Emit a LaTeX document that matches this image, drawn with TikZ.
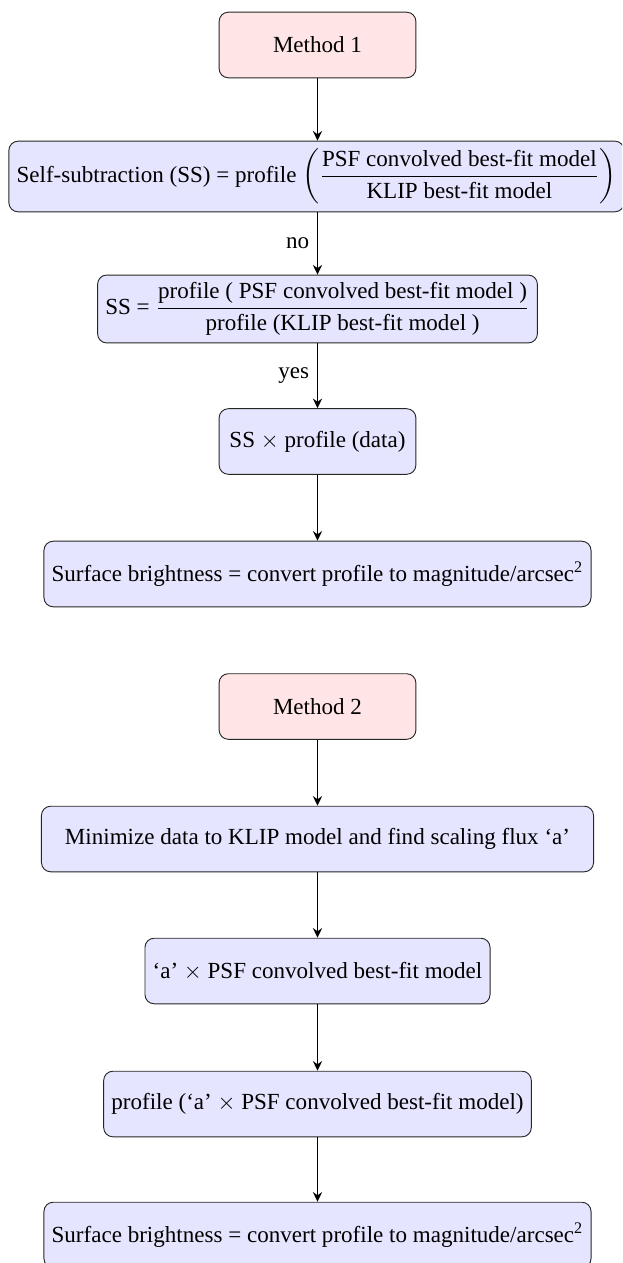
\documentclass[tikz,border=0pt]{standalone}
\usepackage{amsmath}
\usepackage{fontspec}
\setmainfont{Liberation Serif}
\usetikzlibrary{arrows.meta}
\tikzset{
  boxbase/.style={draw=black!85, rounded corners=4pt, minimum height=1cm, inner sep=3.33pt, line width=0.4pt, font=\fontsize{10}{12}\selectfont},
  meth/.style={boxbase, fill=red!10, minimum width=3cm},
  proc/.style={boxbase, fill=blue!10, minimum width=3cm},
  conn/.style={-{Stealth[length=4.2pt,width=4pt,inset=1.4pt]}, line width=0.55pt},
  lbl/.style={font=\fontsize{10}{12}\selectfont, left}
}
\begin{document}
\begin{tikzpicture}[x=0.4338pt,y=-0.4338pt]
\useasboundingbox (0,0) rectangle (622,1263);
\clip (0,0) rectangle (622,1263);
\node[meth] (m1) at (317.5,45) {Method 1};
\node[proc] (ss) at (316.5,176.5) {Self-subtraction (SS) = profile $\left(\dfrac{\text{PSF convolved best-fit model}}{\text{KLIP best-fit model}}\right)$};
\node[proc] (b3) at (317.5,309) {SS = $\dfrac{\text{profile ( PSF convolved best-fit model )}}{\text{profile (KLIP best-fit model )}}$};
\node[proc] (b4) at (317.5,441.5) {SS $\times$ profile (data)};
\node[proc] (b5) at (317.5,574) {Surface brightness = convert profile to magnitude/arcsec\textsuperscript{2}};
\node[meth] (m2) at (317.5,706.5) {Method 2};
\node[proc, minimum width=239.5pt] (b6) at (317.5,839) {Minimize data to KLIP model and find scaling flux ‘a’};
\node[proc] (b7) at (317.5,971) {‘a’ $\times$ PSF convolved best-fit model};
\node[proc] (b8) at (317.5,1104) {profile (‘a’ $\times$ PSF convolved best-fit model)};
\node[proc] (b9) at (317.5,1235) {Surface brightness = convert profile to magnitude/arcsec\textsuperscript{2}};
\draw[conn] (m1) -- (m1 |- ss.north);
\draw[conn] (ss.south -| m1) -- node[lbl] {no} (b3.north -| m1);
\draw[conn] (b3.south -| m1) -- node[lbl] {yes} (b4);
\draw[conn] (b4) -- (b5);
\draw[conn] (m2) -- (b6);
\draw[conn] (b6) -- (b7);
\draw[conn] (b7) -- (b8);
\draw[conn] (b8) -- (b9);
\end{tikzpicture}
\end{document}
